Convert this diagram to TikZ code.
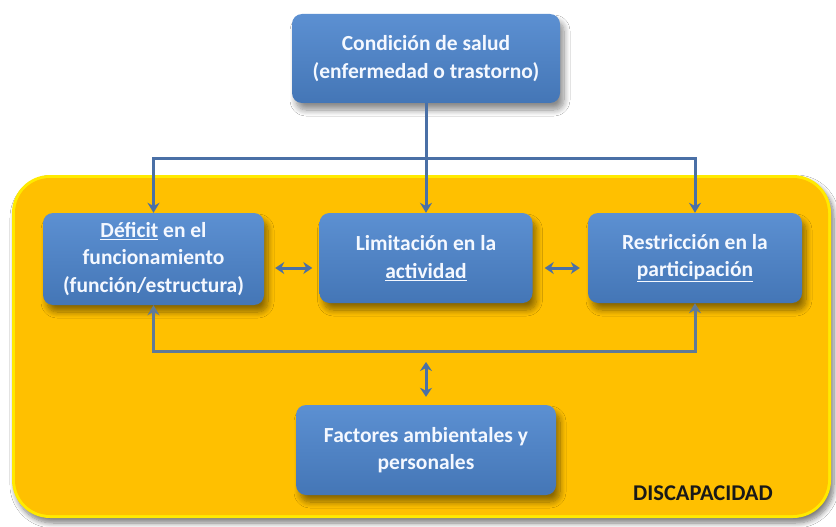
\documentclass[tikz,border=0pt]{standalone}
\usepackage{fontspec}
\setmainfont{Carlito}
\usetikzlibrary{arrows.meta,shadows.blur}
\definecolor{boxtop}{HTML}{5C90D2}
\definecolor{boxbot}{HTML}{4476B6}
\definecolor{arrowblue}{HTML}{4A70A6}
\definecolor{linegray}{HTML}{5F7A98}
\definecolor{yelfill}{HTML}{FFC000}
\definecolor{yeledge}{HTML}{FFEA00}
\definecolor{txtwhite}{HTML}{F4F8FF}
\tikzset{
  bluebox/.style={rounded corners=10pt, top color=boxtop, bottom color=boxbot,
    draw=none, align=center, text=txtwhite, inner sep=0pt,
    font=\bfseries\fontsize{21.5}{27.5}\selectfont,
    blur shadow={shadow xshift=4pt, shadow yshift=-7pt, shadow blur steps=10, shadow opacity=45, shadow blur radius=6pt}},
  conn/.style={draw=arrowblue, line width=3pt, -{Stealth[length=10pt,width=12pt]}},
  conn2/.style={draw=linegray, line width=3pt, {Stealth[length=10pt,width=12pt]}-{Stealth[length=10pt,width=12pt]}},
  dbl/.style={draw=arrowblue, line width=3pt, {Stealth[length=9pt,width=12pt]}-{Stealth[length=9pt,width=12pt]}},
}
\begin{document}
\begin{tikzpicture}[x=1pt,y=-1pt]
\useasboundingbox (0,0) rectangle (836,527);
\fill[white] (0,0) rectangle (836,527);
% yellow disability area
\fill[yeledge, rounded corners=38pt,
  blur shadow={shadow xshift=3pt, shadow yshift=-5pt, shadow blur steps=8, shadow opacity=50, shadow blur radius=5pt}]
  (12,175) rectangle (831,518);
\fill[yelfill, rounded corners=35pt] (15,178) rectangle (828,515);

\node[bluebox, minimum width=268pt, minimum height=89pt] (top) at (426,58.5)
  {Condición de salud\\(enfermedad o trastorno)};
\node[bluebox, minimum width=221pt, minimum height=92pt] (left) at (153.5,259)
  {\underline{Déficit} en el\\funcionamiento\\(función/estructura)};
\node[bluebox, minimum width=213pt, minimum height=90pt] (mid) at (426,258)
  {Limitación en la\\\underline{actividad}};
\node[bluebox, minimum width=214pt, minimum height=90pt] (right) at (695,258)
  {Restricción en la\\\underline{participación}};
\node[bluebox, minimum width=260pt, minimum height=90pt] (bot) at (426,450)
  {Factores ambientales y\\personales};
\node[font=\bfseries\fontsize{22.5}{26}\selectfont, text=black!90] (disc) at (703,493) {DISCAPACIDAD};

\coordinate (hub) at (426,158);
\coordinate (ry) at (0,268);
\coordinate (bl) at (0,351);

\draw[conn] (top.south) -- (mid.north);
\draw[conn] (hub) -| (left.north);
\draw[conn] (hub) -| (right.north);
\draw[dbl, shorten <=11pt, shorten >=7pt] (left.east |- ry) -- (mid.west |- ry);
\draw[dbl, shorten <=12pt, shorten >=8pt] (mid.east |- ry) -- (right.west |- ry);
\draw[conn2] (left.south) -- (left.south |- bl) -| (right.south);
\draw[dbl, shorten <=8pt, shorten >=11pt] (bot.north) -- (bot.north |- bl);
\end{tikzpicture}
\end{document}
